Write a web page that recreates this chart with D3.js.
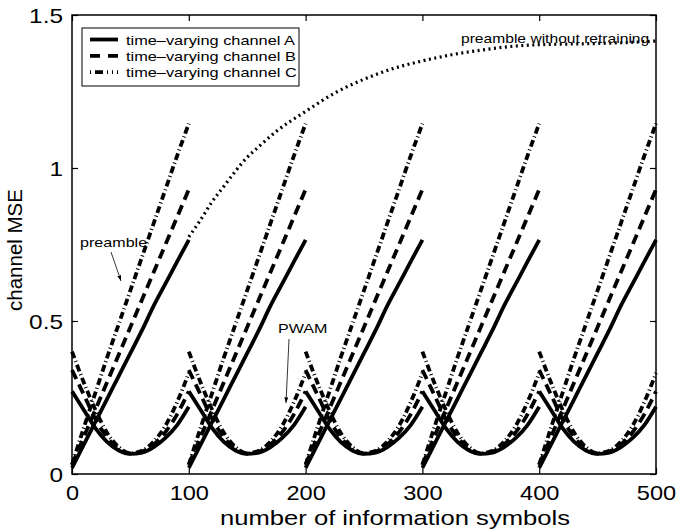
<!DOCTYPE html>
<html>
<head>
<meta charset="utf-8">
<script src="https://cdn.jsdelivr.net/npm/d3@7"></script>
<style>
  html, body { margin: 0; padding: 0; background: #fff; }
  svg { display: block; font-family: "Liberation Sans", Arial, Helvetica, sans-serif; }
</style>
</head>
<body>
<svg id="chart" width="676" height="531"></svg>
<script>
// Retraining frames: every frame starts a fresh estimate at these symbol indices
const frameStarts = [0, 100, 200, 300, 400];
// Symbol offsets inside one frame
const frameSteps = [0, 10, 20, 30, 40, 50, 60, 70, 80, 90, 100];

// Channel MSE with preamble training, per frame offset
const preambleA = [0.02, 0.095, 0.17, 0.245, 0.32, 0.395, 0.47, 0.55, 0.622, 0.694, 0.765];
const preambleB = [0.03, 0.12, 0.21, 0.30, 0.39, 0.48, 0.57, 0.66, 0.75, 0.84, 0.93];
const preambleC = [0.03, 0.15, 0.265, 0.38, 0.49, 0.60, 0.71, 0.82, 0.93, 1.04, 1.145];

// Channel MSE with PWAM, per frame offset
const pwamA = [0.27, 0.21, 0.15, 0.105, 0.077, 0.066, 0.07, 0.088, 0.118, 0.16, 0.22];
const pwamB = [0.34, 0.26, 0.18, 0.12, 0.082, 0.067, 0.073, 0.097, 0.137, 0.195, 0.27];
const pwamC = [0.40, 0.30, 0.21, 0.135, 0.088, 0.068, 0.076, 0.106, 0.158, 0.235, 0.33];

// Preamble estimate kept after the first frame (no retraining)
const noRetrainX   = [100, 110, 120, 130, 140, 150, 160, 175, 200, 225, 250, 275, 300, 325, 350, 375, 400, 425, 450, 475, 500];
const noRetrainMSE = [0.775, 0.83, 0.89, 0.94, 0.99, 1.035, 1.07, 1.12, 1.185, 1.245, 1.29, 1.325, 1.35, 1.37, 1.385, 1.397, 1.403, 1.405, 1.407, 1.41, 1.415];

// Axis ticks
const xTicks = [0, 100, 200, 300, 400, 500];
const yTicks = [0, 0.5, 1, 1.5];
const yTickLabels = ["0", "0.5", "1", "1.5"];

const legendLabels = ["time\u2013varying channel A", "time\u2013varying channel B", "time\u2013varying channel C"];

const SX = 1.22; // horizontal stretch of the lettering
const styles = {
  A: { width: 3.8, dash: null },
  B: { width: 3.8, dash: "10,6" },
  C: { width: 3.8, dash: "7,3,1,3" }
};

const svg = d3.select("#chart");
const margin = { left: 72, right: 20, top: 15, bottom: 57 };
const W = 676, H = 531;
const x = d3.scaleLinear().domain([0, 500]).range([margin.left, W - margin.right]);
const y = d3.scaleLinear().domain([0, 1.5]).range([H - margin.bottom, margin.top]);

function stretchedText(parent, px, py, str, size, anchor) {
  return parent.append("text")
    .attr("transform", `translate(${px},${py}) scale(${SX},1)`)
    .attr("text-anchor", anchor)
    .style("font-size", size + "px")
    .attr("fill", "#000")
    .text(str);
}

// Curves
const line = d3.line().x(d => x(d[0])).y(d => y(d[1])).curve(d3.curveMonotoneX);
const curves = svg.append("g").attr("fill", "none").attr("stroke", "#000");

function drawSeries(values, st) {
  frameStarts.forEach(f => {
    const pts = frameSteps.map((s, i) => [f + s, values[i]]);
    const p = curves.append("path").attr("d", line(pts))
      .attr("stroke-width", st.width);
    if (st.dash) p.attr("stroke-dasharray", st.dash);
  });
}

drawSeries(pwamC, styles.C);
drawSeries(pwamB, styles.B);
drawSeries(pwamA, styles.A);
drawSeries(preambleC, styles.C);
drawSeries(preambleB, styles.B);
drawSeries(preambleA, styles.A);

curves.append("path")
  .attr("d", line(noRetrainX.map((v, i) => [v, noRetrainMSE[i]])))
  .attr("stroke-width", 3.2)
  .attr("stroke-dasharray", "2,3.5");

// Axes with inward ticks on all four sides
const tickLen = 6;
const axB = svg.append("g").attr("transform", `translate(0,${y(0)})`)
  .call(d3.axisBottom(x).tickValues(xTicks).tickSize(-tickLen).tickPadding(12).tickFormat(d3.format("d")));
const axT = svg.append("g").attr("transform", `translate(0,${y(1.5)})`)
  .call(d3.axisTop(x).tickValues(xTicks).tickSize(-tickLen).tickFormat(""));
const axL = svg.append("g").attr("transform", `translate(${x(0)},0)`)
  .call(d3.axisLeft(y).tickValues(yTicks).tickSize(-tickLen).tickPadding(9)
    .tickFormat((d, i) => yTickLabels[i]));
const axR = svg.append("g").attr("transform", `translate(${x(500)},0)`)
  .call(d3.axisRight(y).tickValues(yTicks).tickSize(-tickLen).tickFormat(""));

[axB, axT, axL, axR].forEach(a => {
  a.select(".domain").remove();
  a.selectAll(".tick line").attr("stroke", "#000").attr("stroke-width", 1.2);
  a.selectAll("text").style("font-size", "20px")
    .style("font-family", "'Liberation Sans', Arial, sans-serif").attr("fill", "#000");
});
axB.selectAll("text").attr("transform", `scale(${SX - 0.04},1)`).attr("dy", "0.71em");
axL.selectAll("text").attr("transform", `scale(${SX},1)`)
  .attr("x", -9 / SX).attr("dy", "0.36em");

// Plot frame
svg.append("rect")
  .attr("x", x(0)).attr("y", y(1.5))
  .attr("width", x(500) - x(0)).attr("height", y(0) - y(1.5))
  .attr("fill", "none").attr("stroke", "#000").attr("stroke-width", 1.5);

// Axis titles
stretchedText(svg, 395, 525, "number of information symbols", 21, "middle");
svg.append("text")
  .attr("transform", "translate(22,250) rotate(-90)")
  .attr("text-anchor", "middle")
  .style("font-size", "20.5px")
  .text("channel MSE");

// Legend
const lg = svg.append("g");
lg.append("rect").attr("x", 82).attr("y", 28).attr("width", 217).attr("height", 58)
  .attr("fill", "#fff").attr("stroke", "#000").attr("stroke-width", 1);
["A", "B", "C"].forEach((k, i) => {
  const yy = 39.5 + i * 16.3;
  const p = lg.append("line").attr("x1", 90).attr("x2", 118).attr("y1", yy).attr("y2", yy)
    .attr("stroke", "#000").attr("stroke-width", styles[k].width);
  if (k === "B") p.attr("stroke-dasharray", "10,8");
  if (k === "C") p.attr("stroke-dasharray", "1,4,8,4,1,4,1,4");
  stretchedText(lg, 126, yy + 5, legendLabels[i], 13.4, "start");
});

// Annotations
const defs = svg.append("defs");
defs.append("marker").attr("id", "head").attr("viewBox", "0 0 10 10")
  .attr("refX", 10).attr("refY", 5).attr("markerWidth", 7).attr("markerHeight", 7)
  .attr("orient", "auto-start-reverse")
  .append("path").attr("d", "M0,1.5 L10,5 L0,8.5 Z").attr("fill", "#000");

stretchedText(svg, 80, 247, "preamble", 13.2, "start");
svg.append("line").attr("x1", 111).attr("y1", 252).attr("x2", 121).attr("y2", 281)
  .attr("stroke", "#000").attr("stroke-width", 0.8).attr("marker-end", "url(#head)");

stretchedText(svg, 278, 333, "PWAM", 13.2, "start");
svg.append("line").attr("x1", 289).attr("y1", 339).attr("x2", 286).attr("y2", 403)
  .attr("stroke", "#000").attr("stroke-width", 0.8).attr("marker-end", "url(#head)");

stretchedText(svg, 461, 43, "preamble without retraining", 12.8, "start");
</script>
</body>
</html>
